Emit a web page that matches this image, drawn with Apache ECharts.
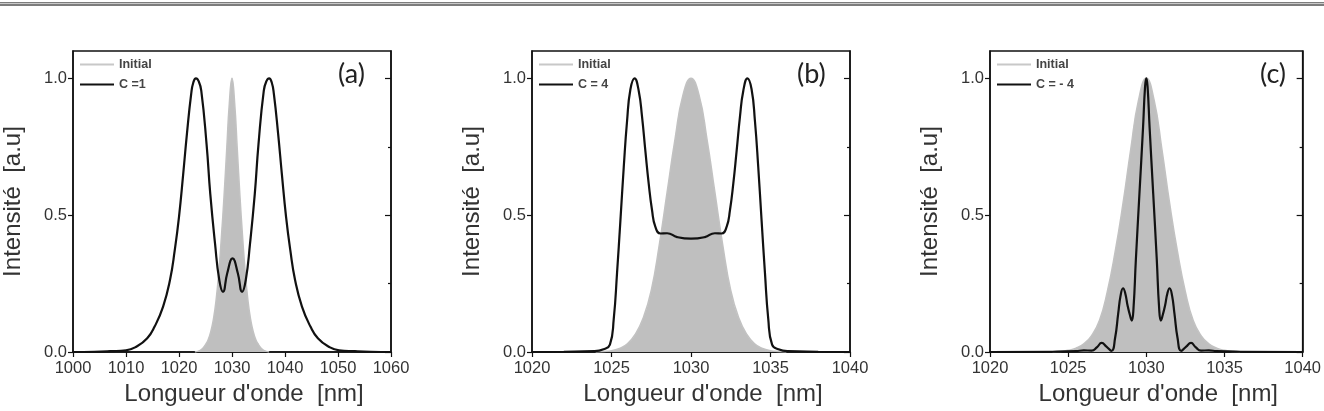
<!DOCTYPE html>
<html>
<head>
<meta charset="utf-8">
<script src="https://cdn.jsdelivr.net/npm/echarts@6/dist/echarts.min.js"></script>
<style>
  html, body { margin: 0; padding: 0; background: #fff; }
  #chart { width: 1324px; height: 411px; }
</style>
</head>
<body>
<div id="chart"></div>
<script>
// panel (a): wavelength [nm], intensity [a.u]
const initialA = [
  [1023, 0], [1024, 0.006], [1024.5, 0.014], [1025, 0.027], [1025.5, 0.045], [1026, 0.075],
  [1026.5, 0.12], [1027, 0.19], [1027.5, 0.29], [1028, 0.42], [1028.5, 0.57], [1029, 0.74],
  [1029.5, 0.91], [1030, 1.0], [1030.5, 0.91], [1031, 0.74], [1031.5, 0.57], [1032, 0.42],
  [1032.5, 0.29], [1033, 0.19], [1033.5, 0.12], [1034, 0.075], [1034.5, 0.045], [1035, 0.027],
  [1035.5, 0.014], [1036, 0.006], [1037, 0]
];
const chirpA = [
  [1000, 0], [1004, 0.001], [1007, 0.003], [1010, 0.006], [1012, 0.02], [1014, 0.05],
  [1015.4, 0.093], [1017, 0.166], [1018.3, 0.263], [1019.2, 0.372], [1020, 0.494],
  [1020.8, 0.652], [1021.5, 0.798], [1022.3, 0.943], [1022.7, 0.985], [1023.2, 1.0],
  [1023.7, 0.99], [1024.2, 0.955], [1025.2, 0.76], [1025.9, 0.578], [1026.8, 0.396],
  [1027.6, 0.263], [1028.3, 0.22], [1029.1, 0.288], [1030.1, 0.342], [1031.1, 0.288],
  [1031.9, 0.22], [1032.6, 0.263], [1033.4, 0.396], [1034.3, 0.578], [1035.0, 0.76],
  [1036.0, 0.955], [1036.5, 0.99], [1037.0, 1.0], [1037.5, 0.985], [1037.9, 0.943],
  [1038.7, 0.798], [1039.4, 0.652], [1040.2, 0.494], [1041.0, 0.372], [1041.9, 0.263],
  [1043.2, 0.166], [1044.8, 0.093], [1046.2, 0.05], [1048.2, 0.02], [1050.2, 0.006],
  [1053.2, 0.003], [1056.2, 0.001], [1060, 0]
];

// panel (b)
const initialB = [
  [1024, 0], [1024.5, 0.002], [1025, 0.005], [1025.5, 0.013], [1026, 0.03], [1026.5, 0.065],
  [1027, 0.125], [1027.5, 0.225], [1028, 0.39], [1028.5, 0.585], [1029, 0.78], [1029.5, 0.94],
  [1030, 1.0], [1030.5, 0.94], [1031, 0.78], [1031.5, 0.585], [1032, 0.39], [1032.5, 0.225],
  [1033, 0.125], [1033.5, 0.065], [1034, 0.03], [1034.5, 0.013], [1035, 0.005], [1035.5, 0.002],
  [1036, 0]
];
const chirpB = [
  [1020, 0], [1022, 0.001], [1023.9, 0.003], [1024.5, 0.01], [1024.9, 0.027], [1025.14, 0.12],
  [1025.35, 0.29], [1025.56, 0.48], [1025.77, 0.675], [1025.98, 0.845], [1026.19, 0.96],
  [1026.45, 1.0], [1026.71, 0.955], [1026.92, 0.86], [1027.13, 0.735], [1027.34, 0.615],
  [1027.55, 0.518], [1027.76, 0.457], [1028.08, 0.433], [1028.5, 0.434], [1029.13, 0.42],
  [1030, 0.414], [1030.87, 0.42], [1031.5, 0.434], [1031.92, 0.433], [1032.24, 0.457],
  [1032.45, 0.518], [1032.66, 0.615], [1032.87, 0.735], [1033.08, 0.86], [1033.29, 0.955],
  [1033.55, 1.0], [1033.81, 0.96], [1034.02, 0.845], [1034.23, 0.675], [1034.44, 0.48],
  [1034.65, 0.29], [1034.86, 0.12], [1035.1, 0.027], [1035.5, 0.01], [1036.1, 0.003],
  [1038, 0.001], [1040, 0]
];

// panel (c)
const initialC = [
  [1024, 0], [1024.5, 0.002], [1025, 0.006], [1025.5, 0.014], [1026, 0.03], [1026.5, 0.06],
  [1027, 0.115], [1027.5, 0.22], [1028, 0.365], [1028.5, 0.54], [1029, 0.74], [1029.5, 0.92],
  [1030, 1.0], [1030.5, 0.92], [1031, 0.74], [1031.5, 0.54], [1032, 0.365], [1032.5, 0.22],
  [1033, 0.115], [1033.5, 0.06], [1034, 0.03], [1034.5, 0.014], [1035, 0.006], [1035.5, 0.002],
  [1036, 0]
];
const chirpC = [
  [1020, 0], [1024, 0.001], [1025.5, 0.003], [1026, 0.006], [1026.5, 0.005], [1026.85, 0.018],
  [1027.14, 0.033], [1027.45, 0.02], [1027.77, 0.004], [1028.0, 0.05], [1028.2, 0.14],
  [1028.35, 0.205], [1028.51, 0.233], [1028.65, 0.215], [1028.8, 0.17], [1028.95, 0.135],
  [1029.07, 0.115], [1029.18, 0.16], [1029.33, 0.336], [1029.56, 0.579], [1029.79, 0.82],
  [1029.92, 0.97], [1030, 1.0], [1030.08, 0.97], [1030.21, 0.82], [1030.44, 0.579],
  [1030.67, 0.336], [1030.82, 0.16], [1030.93, 0.115], [1031.05, 0.135], [1031.2, 0.17],
  [1031.35, 0.215], [1031.49, 0.233], [1031.65, 0.205], [1031.8, 0.14], [1032.0, 0.05],
  [1032.23, 0.004], [1032.55, 0.02], [1032.86, 0.033], [1033.15, 0.018], [1033.5, 0.005],
  [1034, 0.006], [1034.5, 0.003], [1036, 0.001], [1040, 0]
];

const panelTags = ['(a)', '(b)', '(c)'];
const chirpNames = ['C =1', 'C = 4', 'C = - 4'];
const xRanges = [[1000, 1060, 10], [1020, 1040, 5], [1020, 1040, 5]];
const yMajor = [0, 0.5, 1.0];
const yMinor = [0.25, 0.75];

const initials = [initialA, initialB, initialC];
const chirps = [chirpA, chirpB, chirpC];
const lefts = [73, 532, 990];

const font = '"Liberation Sans", Arial, sans-serif';
const chart = echarts.init(document.getElementById('chart'), null, { renderer: 'canvas' });

const grid = [], xAxis = [], yAxis = [], series = [], legend = [], title = [];

lefts.forEach((left, i) => {
  grid.push({ left: left, top: 51, width: 318, height: 301, show: true,
    borderColor: '#111', borderWidth: 1.5, backgroundColor: 'transparent' });

  xAxis.push({
    type: 'value', gridIndex: i, min: xRanges[i][0], max: xRanges[i][1], interval: xRanges[i][2],
    name: 'Longueur d\'onde  [nm]', nameLocation: 'middle', nameGap: 30,
    nameTextStyle: { fontSize: 24, color: '#333', fontFamily: font, padding: [0, 0, 0, 24] },
    axisLine: { lineStyle: { color: '#111', width: 1.5 } },
    axisTick: { inside: false, length: 5, lineStyle: { color: '#111', width: 1.2 } },
    axisLabel: { fontSize: 16.5, color: '#333', fontFamily: font, margin: 8, formatter: v => String(v) },
    splitLine: { show: false }
  });

  // left axis with labels
  yAxis.push({
    type: 'value', gridIndex: i, min: 0, max: 1.1, position: 'left',
    name: 'Intensité  [a.u]', nameLocation: 'middle', nameGap: 48,
    nameTextStyle: { fontSize: 24, color: '#333', fontFamily: font },
    axisLine: { lineStyle: { color: '#111', width: 1.5 } },
    axisTick: { inside: false, length: 5, customValues: yMajor, lineStyle: { color: '#111', width: 1.2 } },
    axisLabel: { fontSize: 16.5, color: '#333', fontFamily: font, margin: 6,
      customValues: yMajor, formatter: v => v.toFixed(1) },
    splitLine: { show: false }
  });
  // right axis: inward major ticks
  yAxis.push({
    type: 'value', gridIndex: i, min: 0, max: 1.1, position: 'right',
    axisLine: { show: true, lineStyle: { color: '#111', width: 1.5 } },
    axisTick: { inside: true, length: 6, customValues: yMajor, lineStyle: { color: '#111', width: 1.2 } },
    axisLabel: { show: false }, splitLine: { show: false }
  });
  // right axis: inward minor ticks
  yAxis.push({
    type: 'value', gridIndex: i, min: 0, max: 1.1, position: 'right',
    axisLine: { show: false },
    axisTick: { inside: true, length: 3, customValues: yMinor, lineStyle: { color: '#111', width: 1.2 } },
    axisLabel: { show: false }, splitLine: { show: false }
  });

  series.push({
    name: 'Initial', type: 'line', xAxisIndex: i, yAxisIndex: i * 3,
    data: initials[i], smooth: 0.5, symbol: 'none',
    itemStyle: { color: '#c2c2c2' },
    lineStyle: { color: '#c2c2c2', width: 1.5 },
    areaStyle: { color: '#bfbfbf', opacity: 1 },
    z: 1
  });
  series.push({
    name: chirpNames[i], type: 'line', xAxisIndex: i, yAxisIndex: i * 3,
    data: chirps[i], smooth: 0.5, symbol: 'none',
    itemStyle: { color: '#111' },
    lineStyle: { color: '#111', width: 2.2 },
    z: 3
  });

  legend.push({
    data: [
      { name: 'Initial', itemStyle: { color: '#c8c8c8' } },
      { name: chirpNames[i], itemStyle: { color: '#111' } }
    ],
    orient: 'vertical', left: left + 7, top: 58, icon: 'rect',
    itemWidth: 34, itemHeight: 2.2, itemGap: 7, padding: 0, selectedMode: false,
    textStyle: { fontSize: 12.5, fontWeight: 'bold', color: '#444', fontFamily: font, lineHeight: 13 }
  });

  title.push({
    text: panelTags[i], left: left + 318 - 53 + (i === 2 ? 5 : 0), top: 61, padding: 0,
    textStyle: { fontSize: 27, fontWeight: 'normal', color: '#222', fontFamily: 'Lato, "Open Sans", sans-serif' }
  });
});

chart.setOption({
  animation: false,
  backgroundColor: '#fff',
  title: title,
  legend: legend,
  grid: grid,
  xAxis: xAxis,
  yAxis: yAxis,
  series: series,
  graphic: [
    { type: 'rect', left: 0, top: 2, shape: { width: 1324, height: 4 }, style: { fill: '#7d7d7d' } },
    { type: 'rect', left: 0, top: 3, shape: { width: 1324, height: 1 }, style: { fill: '#c9c9c9' } }
  ]
});

window.addEventListener('resize', () => chart.resize());
</script>
</body>
</html>
